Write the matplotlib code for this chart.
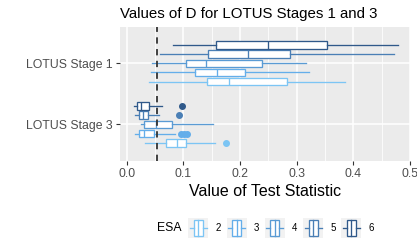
import matplotlib
matplotlib.use("Agg")
import matplotlib.pyplot as plt
from matplotlib.patches import Rectangle

plt.rcParams['font.family'] = ['Liberation Sans', 'DejaVu Sans']

# data (x = value of D)
stages = ["LOTUS Stage 3", "LOTUS Stage 1"]
esa_levels = ["2", "3", "4", "5", "6"]
esa_colors = ["#7cc5f4", "#64aeea", "#5a9bd4", "#4a7fb5", "#30598a"]
cutoff = 0.054

# per stage, per ESA: (whislo, q1, med, q3, whishi)
stage1_stats = [
    (0.040, 0.142, 0.180, 0.283, 0.386),
    (0.043, 0.120, 0.160, 0.208, 0.321),
    (0.044, 0.105, 0.140, 0.239, 0.316),
    (0.058, 0.144, 0.214, 0.288, 0.471),
    (0.082, 0.158, 0.249, 0.353, 0.478),
]
stage3_stats = [
    (0.032, 0.069, 0.088, 0.104, 0.156),
    (0.015, 0.022, 0.031, 0.049, 0.085),
    (0.025, 0.031, 0.051, 0.080, 0.152),
    (0.014, 0.021, 0.028, 0.037, 0.057),
    (0.013, 0.019, 0.025, 0.040, 0.062),
]
stage1_fliers = [[], [], [], [], []]
stage3_fliers = [[0.175], [0.095, 0.101, 0.106], [], [0.092], [0.098]]

offsets = [-0.3, -0.15, 0.0, 0.15, 0.3]

W, H = 417, 250
fig = plt.figure(figsize=(W / 100, H / 100), dpi=100)
ax = fig.add_axes([120 / W, 89 / H, 290.3 / W, 134.3 / H])
ax.set_facecolor("#EBEBEB")

for gi, (stats, fliers) in enumerate([(stage3_stats, stage3_fliers),
                                      (stage1_stats, stage1_fliers)]):
    for k, (s, fl) in enumerate(zip(stats, fliers)):
        c = esa_colors[k]
        d = dict(whislo=s[0], q1=s[1], med=s[2], q3=s[3], whishi=s[4], fliers=fl)
        ax.bxp([d], positions=[gi + 1 + offsets[k]], widths=0.125,
               orientation="horizontal", patch_artist=True, showcaps=False,
               boxprops=dict(facecolor="white", edgecolor=c, linewidth=0.95),
               medianprops=dict(color=c, linewidth=0.95),
               whiskerprops=dict(color=c, linewidth=0.95),
               flierprops=dict(marker="o", markerfacecolor=c, markeredgecolor=c,
                               markersize=4),
               zorder=3)

ax.axvline(cutoff, color="#333333", linestyle=(0, (3.5, 3)), linewidth=1.3, zorder=4)

ax.set_xlim(-0.0118, 0.5005)
ax.set_ylim(0.4, 2.6)
ax.set_xticks([0.0, 0.1, 0.2, 0.3, 0.4, 0.5])
ax.set_xticklabels(["0.0", "0.1", "0.2", "0.3", "0.4", "0.5"])
ax.set_xticks([0.05, 0.15, 0.25, 0.35, 0.45], minor=True)
ax.set_yticks([1, 2])
ax.set_yticklabels(stages)
ax.grid(True, which="major", color="white", linewidth=1.1, zorder=0)
ax.grid(True, which="minor", axis="x", color="white", linewidth=0.55, zorder=0)
ax.set_axisbelow(True)
for sp in ax.spines.values():
    sp.set_visible(False)
ax.tick_params(which="major", length=3, width=0.8, color="#333333",
               labelcolor="#4D4D4D", labelsize=8.8, pad=2)
ax.tick_params(which="minor", length=0)
for lab in ax.get_xticklabels():
    lab.set_clip_on(False)
ax.set_xlabel("Value of Test Statistic", fontsize=11.5, color="black", labelpad=3)
ax.set_title("Values of D for LOTUS Stages 1 and 3", fontsize=10.8, loc="left",
             pad=6)

# legend drawn in pixel space
lax = fig.add_axes([0, 0, 1, 1], zorder=-1)
lax.set_xlim(0, W)
lax.set_ylim(H, 0)
lax.axis("off")
lax.text(157, 228, "ESA", fontsize=8.8, va="center", ha="left")
for k, lvl in enumerate(esa_levels):
    c = esa_colors[k]
    x0 = 188.3 + k * 38.3
    lax.add_patch(Rectangle((x0, 217.5), 20, 20, facecolor="#F2F2F2", edgecolor="none"))
    lax.add_patch(Rectangle((x0 + 5.5, 219.5), 9, 16, facecolor="white",
                            edgecolor=c, linewidth=0.95))
    lax.plot([x0 + 10, x0 + 10], [219.5, 235.5], color=c, linewidth=0.95)
    lax.plot([x0 + 1.5, x0 + 5.5], [227.5, 227.5], color=c, linewidth=0.95)
    lax.plot([x0 + 14.5, x0 + 18.5], [227.5, 227.5], color=c, linewidth=0.95)
    lax.text(x0 + 27, 228, lvl, fontsize=7, va="center", ha="left")

fig.savefig("out.png", dpi=100)
